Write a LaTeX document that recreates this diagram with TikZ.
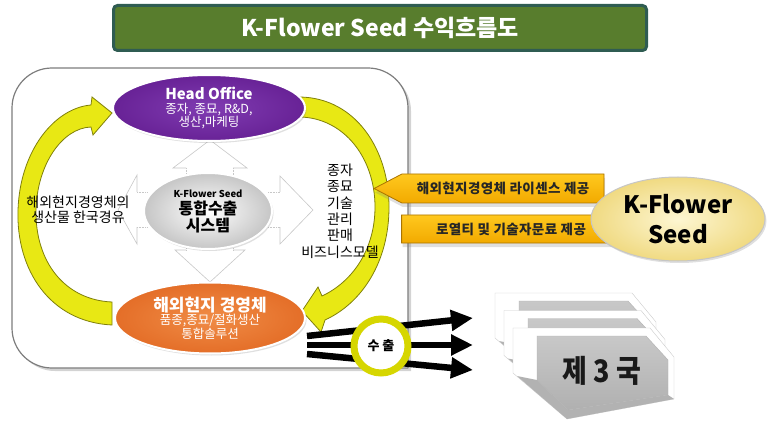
\documentclass[tikz,border=0pt]{standalone}
\usepackage{fontspec}
\setmainfont{Noto Sans CJK KR}
\usetikzlibrary{shapes.geometric,shapes.symbols,arrows.meta,positioning,shadows}
\definecolor{titleGreen}{RGB}{88,125,45}
\definecolor{titleBorder}{RGB}{47,92,82}
\definecolor{officePurple}{RGB}{104,34,150}
\definecolor{officeLight}{RGB}{128,60,178}
\definecolor{localOrange}{RGB}{228,110,40}
\definecolor{localLight}{RGB}{240,140,70}
\definecolor{loopYellow}{RGB}{232,232,20}
\definecolor{loopBorder}{RGB}{128,128,10}
\definecolor{feeGold}{RGB}{242,170,0}
\definecolor{feeLight}{RGB}{255,200,30}
\definecolor{feeBorder}{RGB}{170,115,0}
\definecolor{seedYellow}{RGB}{240,218,130}
\definecolor{seedLight}{RGB}{253,246,210}
\definecolor{ringYellow}{RGB}{214,214,0}
\definecolor{panelBorder}{RGB}{125,125,125}
\definecolor{faintGray}{RGB}{200,200,200}
\definecolor{cardGray}{RGB}{176,176,176}
\definecolor{cardLight}{RGB}{200,200,200}
\tikzset{
  oval/.style={ellipse, draw=white, line width=2pt, inner sep=0pt, align=center,
    text=white, drop shadow={opacity=0.25, shadow xshift=1.5pt, shadow yshift=-2pt}},
  loopArr/.style={fill=loopYellow, draw=loopBorder, line width=0.8pt},
  feeArr/.style={signal, draw=feeBorder, top color=feeLight, bottom color=feeGold,
    line width=0.8pt, minimum height=29, inner sep=0pt, text=black!85,
    font=\fontsize{13.5}{15}\selectfont\bfseries\addfontfeature{LetterSpace=3},
    drop shadow={opacity=0.25, shadow xshift=1pt, shadow yshift=-4pt}},
  faint/.style={draw=faintGray, line width=0.6pt},
  faintDot/.style={draw=faintGray, line width=0.6pt, densely dotted},
  expArr/.style={-{Triangle[length=22pt,width=20pt]}, line width=6.5pt},
  cardPlate/.style={fill=white, draw=gray!40, line width=0.4pt},
  cardFace/.style={top color=cardLight, bottom color=cardGray, draw=gray!60, line width=0.4pt},
  cardEdge/.style={fill=gray!60},
}

\begin{document}
\begin{tikzpicture}[x=1pt, y=-1pt]
\useasboundingbox (0,0) rectangle (768,422);

%% MAIN PANEL
\path[fill=white, draw=panelBorder, line width=1.2pt, rounded corners=40pt,
      drop shadow={opacity=0.35, shadow xshift=3pt, shadow yshift=-3pt}]
  (408,368) -- (12,368) -- (12,68) -- (408,68) -- (408,368);

% four-way arrow behind the hub
\draw[faint] (186,168) -- (173,168) -- (210,140) -- (247,168) -- (233,168);
\draw[faintDot] (186,168) -- (186,180) (233,168) -- (233,180);
\draw[faint] (186,250) -- (175,250) -- (210,282) -- (245,250) -- (233,250);
\draw[faintDot] (186,240) -- (186,250) (233,240) -- (233,250);
\draw[faint] (137,192) -- (137,175) -- (118,210) -- (137,244) -- (137,227);
\draw[faintDot] (137,192) -- (148,192) (137,227) -- (148,227);
\draw[faint] (280,192) -- (280,176) -- (313,210) -- (280,244) -- (280,227);
\draw[faintDot] (268,192) -- (280,192) (268,227) -- (280,227);

%% LOOP ARROWS
\path[loopArr] (112,325) .. controls (50,322) and (16,270) .. (18,210)
  .. controls (20,150) and (55,108) .. (91,105) -- (92,97) -- (112,113)
  -- (93,135) -- (91,127) .. controls (62,128) and (37,165) .. (36,210)
  .. controls (35,262) and (65,300) .. (112,302) -- cycle;
\path[loopArr] (300,97) .. controls (356,98) and (389,150) .. (389,207)
  .. controls (389,262) and (362,303) .. (325,320) -- (321,332) -- (302,311)
  -- (318,287) -- (322,296) .. controls (352,282) and (375,250) .. (375,207)
  .. controls (375,158) and (344,118) .. (300,117) -- cycle;

%% ELLIPSES
\node[oval, inner color=officeLight, outer color=officePurple,
      minimum width=192, minimum height=66,
      font=\fontsize{12.5}{13}\selectfont] (office) at (209,108)
  {{\fontsize{15}{17}\selectfont\bfseries Head Office}\\[1pt]종자, 종묘, R\&D,\\생산,마케팅};
\node[oval, inner color=localLight, outer color=localOrange,
      minimum width=190, minimum height=71,
      font=\fontsize{12.5}{13.5}\selectfont] (local) at (210,318)
  {{\fontsize{17}{18}\selectfont\bfseries 해외현지 경영체}\\품종,종묘/절화생산\\통합솔루션};
\node[oval, inner color=white, outer color=gray!45, text=black,
      minimum width=128, minimum height=76,
      font=\fontsize{16}{17}\selectfont\bfseries] (hub) at (208,211)
  {{\fontsize{9.5}{12}\selectfont K-Flower Seed}\\통합수출\\시스템};

% side labels
\node[font=\fontsize{14}{15}\selectfont, align=center] (viaKorea) at (78,210)
  {해외현지경영체의\\생산물 한국경유};
\node[font=\fontsize{14}{16.4}\selectfont, align=center] (transfer) at (340,211)
  {종자\\종묘\\기술\\관리\\판매\\비즈니스모델};

%% LICENCE / ROYALTY
\node[feeArr, signal to=west, signal pointer angle=55, minimum width=230]
  (licence) at (503,188.5) {해외현지경영체 라이센스 제공};
\node[feeArr, signal to=east, signal pointer angle=75, minimum width=237,
      minimum height=28] (royalty) at (511,229) {로열티 및 기술자문료 제공};
\node[oval, draw=gray!45, line width=1pt, text=black,
      inner color=seedLight, outer color=seedYellow,
      minimum width=174, minimum height=84,
      font=\fontsize{24}{30}\selectfont\bfseries] (seed) at (678,219) {K-Flower\\Seed};

%% EXPORT
\coordinate (out1) at (307,336);
\coordinate (out2) at (307,345);
\coordinate (out3) at (307,354);
\coordinate (dst1) at (473,318);
\coordinate (dst2) at (473,345);
\coordinate (dst3) at (473,370);
\draw[expArr] (out1) -- (dst1);
\draw[expArr] (out2) -- (dst2);
\draw[expArr] (out3) -- (dst3);
\node[circle, draw=ringYellow, line width=7pt, fill=white, minimum size=54,
      font=\fontsize{13}{15}\selectfont\bfseries] (export) at (381,346) {수 출};

% third-country cards, back to front
\foreach \dx/\dy in {-18/-35, -9/-17.5, 0/0} {
  \begin{scope}[shift={(\dx,\dy)}]
    \path[cardPlate] (513,328) -- (650,328) -- (674,357) -- (674,399)
      -- (567,419) -- (513,373) -- cycle;
    \path[cardEdge] (517,376) -- (537,380) -- (568,410) -- (668,395)
      -- (674,399) -- (567,419) -- cycle;
    \path[cardFace] (537,336) -- (646,336) -- (668,360) -- (668,395)
      -- (568,410) -- (537,380) -- cycle;
  \end{scope}
}
\node[font=\fontsize{27}{30}\selectfont\bfseries, text=black!90, yscale=1.15]
  (third) at (602,371) {제 3 국};

% TITLE
\node[rounded corners=4pt, fill=titleGreen, draw=titleBorder, line width=3pt,
      minimum width=533, minimum height=45, text=white,
      font=\fontsize{23}{26}\selectfont\bfseries] (title) at (380,28)
  {K-Flower Seed 수익흐름도};

\end{tikzpicture}
\end{document}
